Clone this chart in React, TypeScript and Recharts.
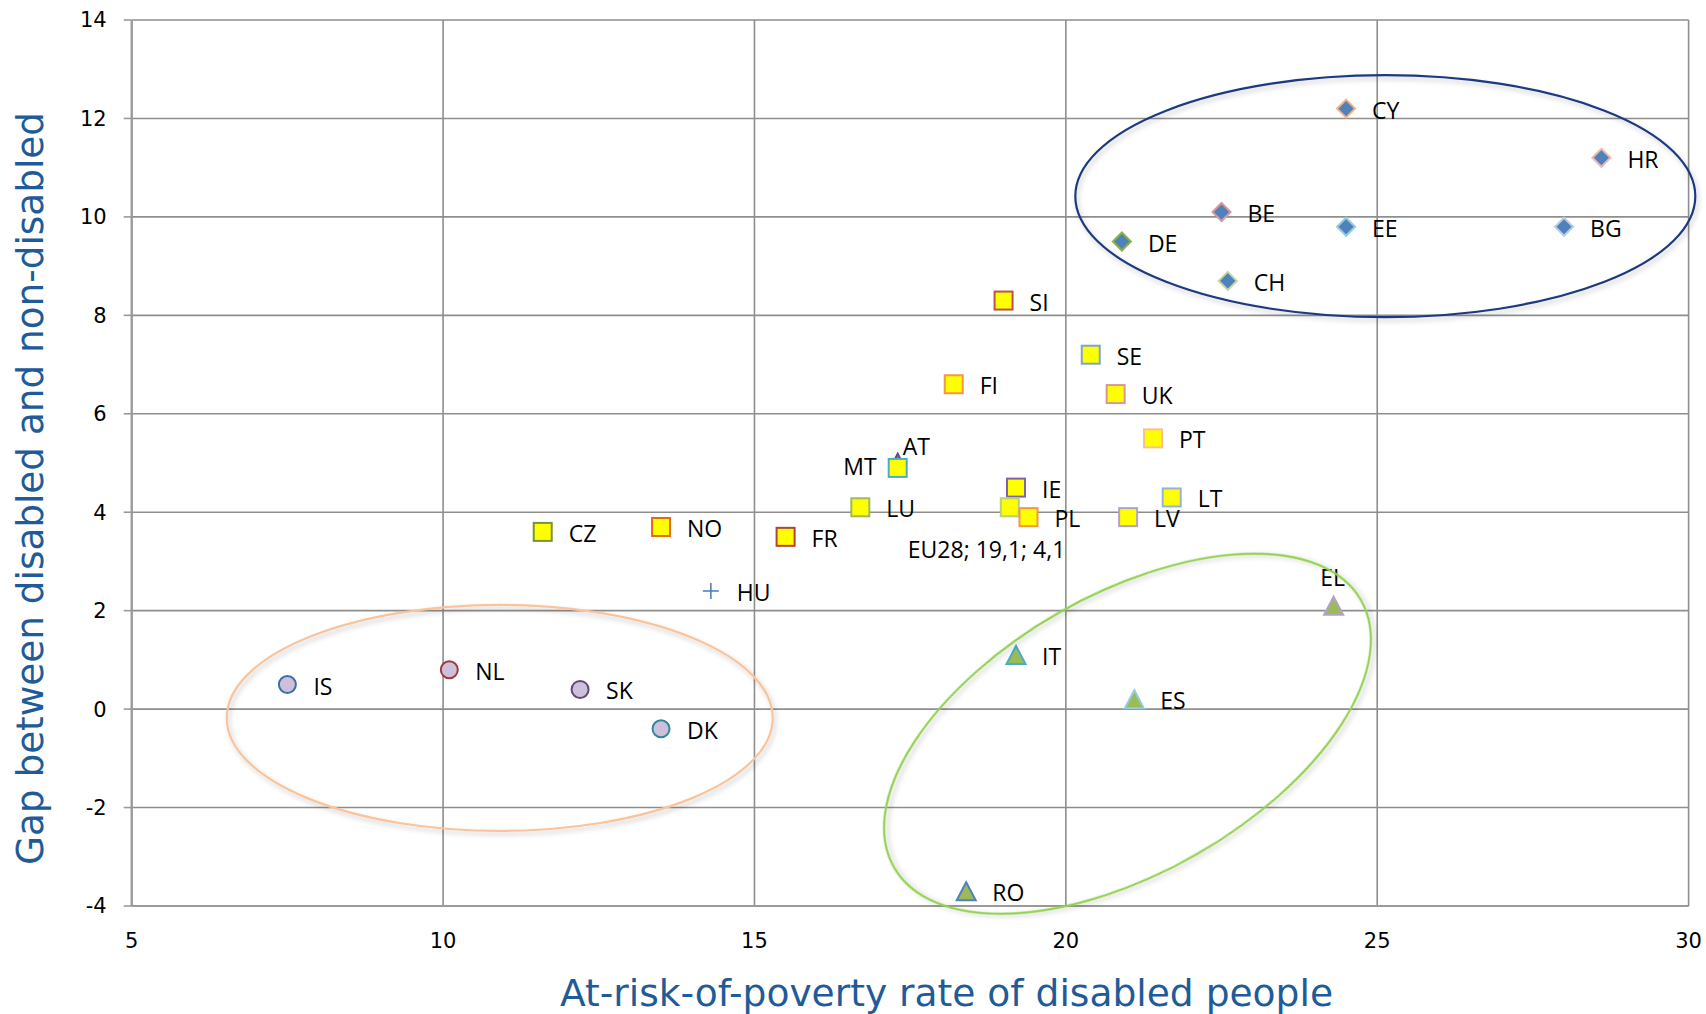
import React from 'react';
import { ScatterChart, Scatter, XAxis, YAxis, CartesianGrid, Label } from 'recharts';

// ---------- axis ticks ----------
const xTicks = [5, 10, 15, 20, 25, 30];
const yTicks = [-4, -2, 0, 2, 4, 6, 8, 10, 12, 14];

// ---------- data: diamonds (upper-right cluster) ----------
const diamondNames = ['CY', 'HR', 'BE', 'EE', 'BG', 'DE', 'CH'];
const diamondX = [24.5, 28.6, 22.5, 24.5, 28.0, 20.9, 22.6];
const diamondY = [12.2, 11.2, 10.1, 9.8, 9.8, 9.5, 8.7];

// ---------- data: squares (middle cluster) ----------
const squareNames = ['SI', 'SE', 'FI', 'UK', 'PT', 'MT', 'LU', 'IE', 'EU28', 'PL', 'LV', 'LT', 'CZ', 'NO', 'FR'];
const squareX = [19.0, 20.4, 18.2, 20.8, 21.4, 17.3, 16.7, 19.2, 19.1, 19.4, 21.0, 21.7, 11.6, 13.5, 15.5];
const squareY = [8.3, 7.2, 6.6, 6.4, 5.5, 4.9, 4.1, 4.5, 4.1, 3.9, 3.9, 4.3, 3.6, 3.7, 3.5];

// ---------- data: circles (lower-left cluster) ----------
const circleNames = ['IS', 'NL', 'SK', 'DK'];
const circleX = [7.5, 10.1, 12.2, 13.5];
const circleY = [0.5, 0.8, 0.4, -0.4];

// ---------- data: triangles (lower-right cluster) ----------
const triangleNames = ['IT', 'ES', 'RO', 'EL'];
const triangleX = [19.2, 21.1, 18.4, 24.3];
const triangleY = [1.1, 0.2, -3.7, 2.1];

// ---------- data: single markers ----------
const atNames = ['AT'];
const atX = [17.3];
const atY = [5.1];

const huNames = ['HU'];
const huX = [14.3];
const huY = [2.4];

// ---------- cluster ellipses (centres in data units) ----------
const ellipseNames = ['upper', 'left', 'right'];
const ellipseX = [25.13, 10.91, 20.99];
const ellipseY = [10.42, -0.18, -0.5];

// ---------- label texts ----------
const labelText: Record<string, string> = { EU28: 'EU28; 19,1; 4,1' };

// ---------- styles ----------
const markerStroke: Record<string, string> = {
  CY: '#F7B183', HR: '#E6B9B8', BE: '#D99694', EE: '#93CDDD', BG: '#B9CDE5', DE: '#8DB04A', CH: '#C3D69B',
  SI: '#C0504D', SE: '#7FA3D1', FI: '#F79646', UK: '#D99694', PT: '#FAC090', MT: '#4BACC6', LU: '#9BBB59',
  IE: '#8064A2', EU28: '#B3D07E', PL: '#F79646', LV: '#B3A2C7', LT: '#95B3D7', CZ: '#77933C', NO: '#E46C0A',
  FR: '#B7403D', IS: '#3F6DA8', NL: '#A33A38', SK: '#604A7B', DK: '#31859C', IT: '#4BACC6', ES: '#93CDDD',
  RO: '#4F81BD', EL: '#B3A2C7', AT: '#5F497A', HU: '#4F81BD',
};

const labelPos: Record<string, { dx: number; dy: number; anchor: 'start' | 'middle' | 'end' }> = {
  MT: { dx: -21, dy: -1.5, anchor: 'end' },
  AT: { dx: 5, dy: -12, anchor: 'start' },
  EL: { dx: -1, dy: -29, anchor: 'middle' },
  EU28: { dx: -102, dy: 42, anchor: 'start' },
};
const defaultLabel = { dx: 26, dy: 1, anchor: 'start' as const };

const ellipseStyle: Record<string, { rx: number; ry: number; angle: number; stroke: string }> = {
  upper: { rx: 310, ry: 121, angle: 0, stroke: '#1F3A7E' },
  left: { rx: 273, ry: 113, angle: 0, stroke: '#F9C49B' },
  right: { rx: 269, ry: 139, angle: -29.8, stroke: '#92D050' },
};

const LABEL_FONT = "'Open Sans', 'Noto Sans', sans-serif";
const AXIS_FONT = "'DejaVu Sans', Verdana, sans-serif";
const TITLE_BLUE = '#1F5B99';
const GRID = '#8E8E8E';

const build = (names: string[], xs: number[], ys: number[]) =>
  names.map((name, i) => ({ name, x: xs[i], y: ys[i] }));

const diamonds = build(diamondNames, diamondX, diamondY);
const squares = build(squareNames, squareX, squareY);
const circles = build(circleNames, circleX, circleY);
const triangles = build(triangleNames, triangleX, triangleY);
const atData = build(atNames, atX, atY);
const huData = build(huNames, huX, huY);
const ellipses = build(ellipseNames, ellipseX, ellipseY);

const renderLabel = (name: string, cx: number, cy: number) => {
  const p = labelPos[name] || defaultLabel;
  return (
    <text
      x={cx + p.dx}
      y={cy + p.dy}
      textAnchor={p.anchor}
      dominantBaseline="central"
      fontFamily={LABEL_FONT}
      fontSize={23}
      fill="#000"
    >
      {labelText[name] || name}
    </text>
  );
};

type Kind = 'diamond' | 'square' | 'circle' | 'triangle' | 'smallTriangle' | 'plus';

const fills: Record<Kind, string> = {
  diamond: '#4F81BD',
  square: '#FFFF00',
  circle: '#CCC0DA',
  triangle: '#9BBB59',
  smallTriangle: '#8064A2',
  plus: 'none',
};

const makeShape = (kind: Kind) => (props: any) => {
  const { cx, cy, payload } = props;
  if (cx == null || cy == null) return <g />;
  const name: string = payload.name;
  const stroke = markerStroke[name];
  const fill = fills[kind];
  let marker: React.ReactNode = null;
  if (kind === 'diamond') {
    const h = 9;
    marker = (
      <polygon
        points={`${cx},${cy - h} ${cx + h},${cy} ${cx},${cy + h} ${cx - h},${cy}`}
        fill={fill}
        stroke={stroke}
        strokeWidth={2}
      />
    );
  } else if (kind === 'square') {
    const s = 9;
    marker = <rect x={cx - s} y={cy - s} width={2 * s} height={2 * s} fill={fill} stroke={stroke} strokeWidth={2} />;
  } else if (kind === 'circle') {
    marker = <circle cx={cx} cy={cy} r={8.5} fill={fill} stroke={stroke} strokeWidth={2} />;
  } else if (kind === 'triangle') {
    const w = 9.5;
    const h = 9;
    marker = (
      <polygon
        points={`${cx},${cy - h} ${cx + w},${cy + h} ${cx - w},${cy + h}`}
        fill={fill}
        stroke={stroke}
        strokeWidth={2}
      />
    );
  } else if (kind === 'smallTriangle') {
    const w = 5;
    const h = 5;
    marker = (
      <polygon
        points={`${cx},${cy - h} ${cx + w},${cy + h} ${cx - w},${cy + h}`}
        fill={fill}
        stroke={stroke}
        strokeWidth={1.5}
      />
    );
  } else if (kind === 'plus') {
    const l = 8;
    marker = (
      <g stroke={stroke} strokeWidth={1.6}>
        <line x1={cx - l} y1={cy} x2={cx + l} y2={cy} />
        <line x1={cx} y1={cy - l} x2={cx} y2={cy + l} />
      </g>
    );
  }
  return (
    <g>
      {marker}
      {renderLabel(name, cx, cy)}
    </g>
  );
};

const renderEllipse = (props: any) => {
  const { cx, cy, payload } = props;
  if (cx == null || cy == null) return <g />;
  const st = ellipseStyle[payload.name];
  return (
    <g>
      <defs>
        <filter id={`ellShadow-${payload.name}`} x="-20%" y="-20%" width="140%" height="140%">
          <feDropShadow dx="2" dy="3" stdDeviation="2.5" floodColor="#000" floodOpacity="0.22" />
        </filter>
      </defs>
      <ellipse
        cx={cx}
        cy={cy}
        rx={st.rx}
        ry={st.ry}
        transform={`rotate(${st.angle} ${cx} ${cy})`}
        fill="none"
        stroke={st.stroke}
        strokeWidth={2.2}
        filter={`url(#ellShadow-${payload.name})`}
      />
    </g>
  );
};

const XTitle = (props: any) => {
  const vb = props.viewBox || { x: 131.7, y: 906, width: 1557, height: 108 };
  return (
    <text
      x={vb.x + 428.3}
      y={vb.y + 99.5}
      textAnchor="start"
      fontFamily={AXIS_FONT}
      fontSize={38}
      fill={TITLE_BLUE}
      textLength={773}
      lengthAdjust="spacingAndGlyphs"
    >
      At-risk-of-poverty rate of disabled people
    </text>
  );
};

const YTitle = (props: any) => {
  const vb = props.viewBox || { x: 0, y: 20, width: 131.7, height: 886 };
  const x = vb.x + 43.3;
  const y = vb.y + 845;
  return (
    <text
      x={x}
      y={y}
      transform={`rotate(-90 ${x} ${y})`}
      textAnchor="start"
      fontFamily={AXIS_FONT}
      fontSize={38}
      fill={TITLE_BLUE}
      textLength={753}
      lengthAdjust="spacingAndGlyphs"
    >
      Gap between disabled and non-disabled
    </text>
  );
};

export default function App() {
  return (
    <div style={{ position: 'fixed', left: 0, top: 0, width: 1706, height: 1014, background: '#fff' }}>
      <ScatterChart width={1706} height={1014} margin={{ top: 20, right: 17.4, bottom: 0, left: 0 }}>
        <CartesianGrid stroke={GRID} strokeWidth={1.6} />
        <XAxis
          type="number"
          dataKey="x"
          domain={[5, 30]}
          ticks={xTicks}
          height={108}
          tickLine={false}
          tickSize={8}
          tickMargin={19}
          axisLine={{ stroke: '#9A9A9A', strokeWidth: 2.2 }}
          tick={{ fontFamily: AXIS_FONT, fontSize: 21, fill: '#000' }}
        >
          <Label content={<XTitle />} />
        </XAxis>
        <YAxis
          type="number"
          dataKey="y"
          domain={[-4, 14]}
          ticks={yTicks}
          width={131.7}
          tickSize={8}
          tickMargin={17}
          tickLine={{ stroke: '#9A9A9A', strokeWidth: 1.6 }}
          axisLine={{ stroke: '#9A9A9A', strokeWidth: 2.2 }}
          tick={{ fontFamily: AXIS_FONT, fontSize: 21, fill: '#000' }}
        >
          <Label content={<YTitle />} />
        </YAxis>
        <Scatter data={atData} shape={makeShape('smallTriangle')} isAnimationActive={false} />
        <Scatter data={diamonds} shape={makeShape('diamond')} isAnimationActive={false} />
        <Scatter data={squares} shape={makeShape('square')} isAnimationActive={false} />
        <Scatter data={circles} shape={makeShape('circle')} isAnimationActive={false} />
        <Scatter data={triangles} shape={makeShape('triangle')} isAnimationActive={false} />
        <Scatter data={huData} shape={makeShape('plus')} isAnimationActive={false} />
        <Scatter data={ellipses} shape={renderEllipse} isAnimationActive={false} />
      </ScatterChart>
    </div>
  );
}
